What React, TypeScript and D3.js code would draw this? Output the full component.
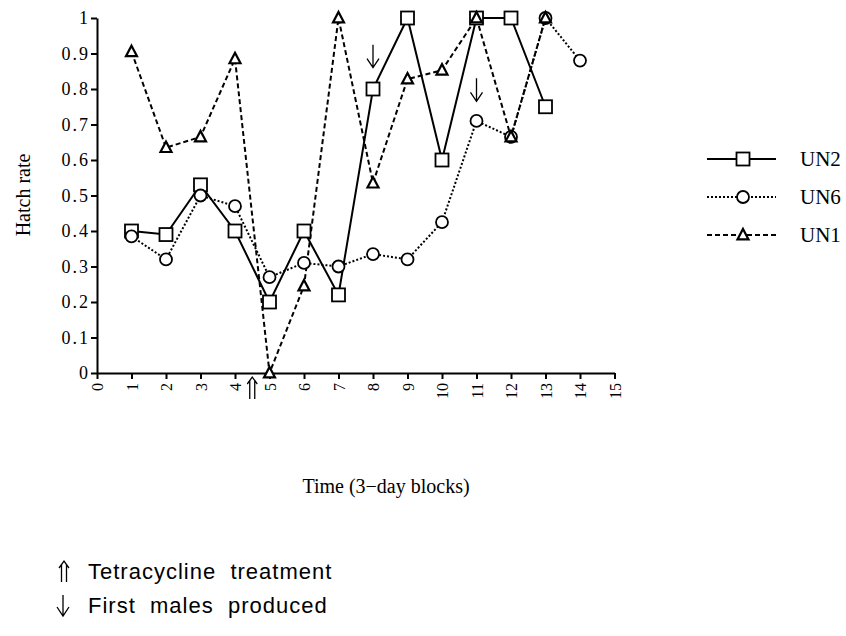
import * as d3 from 'd3';
import { useEffect, useRef } from 'react';

const blocks = [1, 2, 3, 4, 5, 6, 7, 8, 9, 10, 11, 12, 13, 14];
const un2 = [0.4, 0.39, 0.53, 0.4, 0.2, 0.4, 0.22, 0.8, 1.0, 0.6, 1.0, 1.0, 0.75];
const un6 = [0.385, 0.32, 0.5, 0.47, 0.27, 0.31, 0.3, 0.335, 0.32, 0.425, 0.71, 0.665, 1.0, 0.88];
const un1 = [0.905, 0.635, 0.665, 0.885, 0.0, 0.245, 1.0, 0.535, 0.828, 0.853, 1.0, 0.665, 1.0];
const xTicks = d3.range(0, 16);
const yTicks = [0, 0.1, 0.2, 0.3, 0.4, 0.5, 0.6, 0.7, 0.8, 0.9, 1];
// arrow annotations (data units): block, top value
const treatmentAt = 4.5;
const malesAt = [[8, 0.925], [11, 0.83]];

const serif = '"Liberation Serif", "Times New Roman", serif';
const sans = '"Liberation Sans", Arial, sans-serif';

// thin down arrow, tip at (cx, y1)
const downArrow = (sel, cx, y0, y1) => {
  sel.append('path')
    .attr('d', `M${cx},${y0}V${y1}M${cx - 6},${y1 - 9}L${cx},${y1}L${cx + 6},${y1 - 9}`)
    .attr('fill', 'none').attr('stroke', 'black').attr('stroke-width', 1.3);
};
// double up arrow, tip at (cx, y0)
const doubleUp = (sel, cx, y0, y1) => {
  sel.append('path')
    .attr('d', `M${cx - 2.5},${y0 + 3}V${y1}M${cx + 2.5},${y0 + 3}V${y1}M${cx - 5},${y0 + 7}L${cx},${y0}L${cx + 5},${y0 + 7}`)
    .attr('fill', 'none').attr('stroke', 'black').attr('stroke-width', 1.3);
};

const App = () => {
  const svgRef = useRef(null);

  useEffect(() => {
    const svg = d3.select(svgRef.current);
    svg.selectAll('*').remove();
    const margin = { left: 97, top: 18 };
    const width = 517.5;
    const height = 355;

    const x = d3.scaleLinear().domain([0, 15]).range([0, width]);
    const y = d3.scaleLinear().domain([0, 1]).range([height, 0]);

    const g = svg.append('g').attr('transform', `translate(${margin.left},${margin.top})`);

    // axes
    const ya = g.append('g')
      .call(d3.axisLeft(y).tickValues(yTicks).tickSize(6).tickSizeOuter(0).tickFormat(d => d === 0 || d === 1 ? String(d) : d3.format('.1f')(d)));
    ya.select('.domain').attr('stroke-width', 2);
    ya.selectAll('line').attr('stroke-width', 2);
    ya.selectAll('text').attr('font-family', serif).attr('font-size', 18)
      .attr('letter-spacing', 2).attr('x', -7).attr('fill', 'black');

    const xa = g.append('g')
      .attr('transform', `translate(0,${height})`)
      .call(d3.axisBottom(x).tickValues(xTicks).tickSize(6).tickSizeOuter(0));
    xa.select('.domain').attr('stroke-width', 2);
    xa.selectAll('line').attr('stroke-width', 2);
    xa.selectAll('text')
      .attr('font-family', serif).attr('font-size', 16).attr('fill', 'black')
      .attr('y', 0).attr('dy', '0.35em')
      .attr('transform', 'translate(0,10) rotate(-90)')
      .style('text-anchor', 'end');

    const series = [
      { name: 'UN2', values: un2, dash: null, marker: 'square' },
      { name: 'UN6', values: un6, dash: '2,2', marker: 'circle' },
      { name: 'UN1', values: un1, dash: '5,3', marker: 'triangle' },
    ];

    const line = d3.line<number>().x((d, i) => x(blocks[i])).y(d => y(d));

    const drawMarker = (sel, type, cx, cy) => {
      if (type === 'square') {
        sel.append('rect').attr('x', cx - 6.5).attr('y', cy - 6.5).attr('width', 13).attr('height', 13)
          .attr('fill', 'white').attr('stroke', 'black').attr('stroke-width', 1.8);
      } else if (type === 'circle') {
        sel.append('circle').attr('cx', cx).attr('cy', cy).attr('r', 6)
          .attr('fill', 'white').attr('stroke', 'black').attr('stroke-width', 1.8);
      } else {
        const s = 11;
        sel.append('path')
          .attr('d', `M${cx},${cy - s * 0.55}L${cx + s / 2},${cy + s * 0.4}L${cx - s / 2},${cy + s * 0.4}Z`)
          .attr('fill', 'white').attr('stroke', 'black').attr('stroke-width', 2.2);
      }
    };

    series.forEach(s => {
      g.append('path')
        .attr('d', line(s.values))
        .attr('fill', 'none')
        .attr('stroke', 'black')
        .attr('stroke-width', 2)
        .attr('stroke-dasharray', s.dash);
    });
    series.forEach(s => {
      s.values.forEach((v, i) => drawMarker(g, s.marker, x(blocks[i]), y(v)));
    });

    // arrows
    doubleUp(g, x(treatmentAt), height + 4, height + 26);
    malesAt.forEach(([mx, my]) => downArrow(g, x(mx), y(my), y(my) + 23));

    // legend
    const lg = svg.append('g');
    series.forEach((s, i) => {
      const ly = 159 + i * 38;
      lg.append('line').attr('x1', 707).attr('x2', 776).attr('y1', ly).attr('y2', ly)
        .attr('stroke', 'black').attr('stroke-width', 2).attr('stroke-dasharray', s.dash);
      drawMarker(lg, s.marker, 743, ly);
      lg.append('text').attr('x', 800).attr('y', ly).attr('dy', '0.35em')
        .attr('font-family', serif).attr('font-size', 21).attr('fill', 'black').text(s.name);
    });

    // labels
    svg.append('text').attr('transform', 'translate(30,195) rotate(-90)')
      .attr('text-anchor', 'middle').attr('font-family', serif).attr('font-size', 20).text('Hatch rate');
    svg.append('text').attr('x', 386).attr('y', 493)
      .attr('text-anchor', 'middle').attr('font-family', serif).attr('font-size', 20).text('Time (3\u2212day blocks)');

    doubleUp(svg, 64, 561, 582);
    svg.append('text').attr('x', 88).attr('y', 579).attr('font-family', sans).attr('font-size', 22)
      .attr('letter-spacing', 1).style('white-space', 'pre').text('Tetracycline  treatment');
    downArrow(svg, 63, 595, 616);
    svg.append('text').attr('x', 88).attr('y', 613).attr('font-family', sans).attr('font-size', 22)
      .attr('letter-spacing', 1).style('white-space', 'pre').text('First  males  produced');
  }, []);

  return (
    <svg ref={svgRef} width={846} height={636} style={{ position: 'absolute', left: 0, top: 0, background: 'white' }}></svg>
  );
};

export default App;
